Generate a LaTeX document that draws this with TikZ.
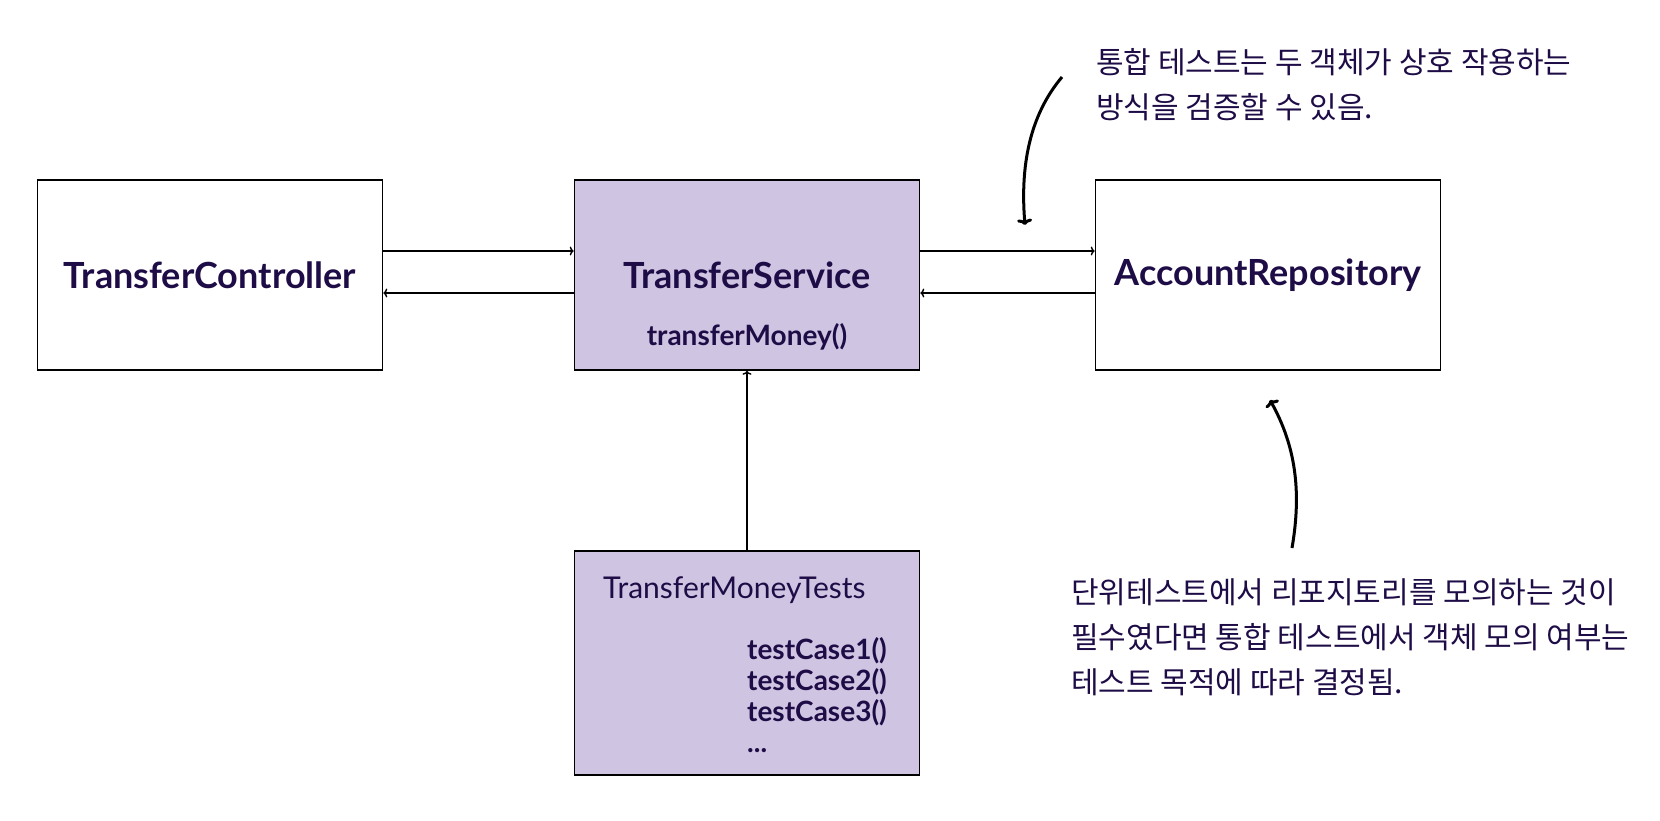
\documentclass[tikz,border=0pt]{standalone}
\usepackage{fontspec}
\setmainfont{Lato}
\newfontfamily\krfont{Noto Sans CJK KR}
\usetikzlibrary{arrows.meta,positioning}
\definecolor{tsnavy}{RGB}{30,12,70}
\definecolor{tslilac}{RGB}{207,196,226}

\begin{document}
\begin{tikzpicture}[x=1pt,y=-1pt,
  box/.style={draw=black, line width=1.6pt, minimum width=345pt, minimum height=190pt, inner sep=0pt},
  title/.style={font=\fontsize{36}{40}\selectfont\bfseries, text=tsnavy},
  method/.style={font=\fontsize{28}{31}\selectfont\bfseries, text=tsnavy, align=left},
  note/.style={font=\krfont\fontsize{30}{45}\selectfont, text=tsnavy, align=left, anchor=north west, inner sep=0pt},
  link/.style={line width=1.4pt, -{To[length=4pt,width=9pt]}},
  hint/.style={line width=3pt, -{To[length=6pt,width=15pt]}}]
\useasboundingbox (0,0) rectangle (1660,820);
% Boxes
\node[box] (ctrl) at (210,275) {};
\node[box, fill=tslilac] (svc) at (747,275) {};
\node[box] (repo) at (1268,275) {};
\node[box, fill=tslilac, minimum height=224pt] (tests) at (747,663) {};
% Box texts
\node[title] (ctrltxt) at (ctrl) {TransferController};
\node[title] (svctxt) at (svc) {TransferService};
\node[method] (svcmeth) at (747,337) {transferMoney()};
\node[title] (repotxt) at (repo) {AccountRepository};
\node[font=\fontsize{30}{36}\selectfont, text=tsnavy, anchor=west, inner sep=0pt] (teststxt) at (603,590) {TransferMoneyTests};
\node[method, anchor=north west, inner sep=0pt] (cases) at (747,637) {testCase1()\\testCase2()\\testCase3()\\...};
% Calls between boxes
\draw[link] ([yshift=24pt]ctrl.east) -- ([yshift=24pt]svc.west);
\draw[link] ([yshift=-18pt]svc.west) -- ([yshift=-18pt]ctrl.east);
\draw[link] ([yshift=24pt]svc.east) -- ([yshift=24pt]repo.west);
\draw[link] ([yshift=-18pt]repo.west) -- ([yshift=-18pt]svc.east);
\draw[link] (tests.north) -- (svc.south);
% Notes
\node[note] (topnote) at (1096,48) {통합 테스트는 두 객체가 상호 작용하는\\방식을 검증할 수 있음.};
\node[note] (botnote) at (1071,578) {단위테스트에서 리포지토리를 모의하는 것이\\필수였다면 통합 테스트에서 객체 모의 여부는\\테스트 목적에 따라 결정됨.};
\coordinate (topfrom) at (1062,77);
\coordinate (topto) at (1025,225);
\coordinate (botfrom) at (1292,548);
\coordinate (botto) at (1270,400);
\draw[hint] (topfrom) .. controls (1030,115) and (1020,165) .. (topto);
\draw[hint] (botfrom) .. controls (1302,490) and (1295,445) .. (botto);
\end{tikzpicture}
\end{document}
